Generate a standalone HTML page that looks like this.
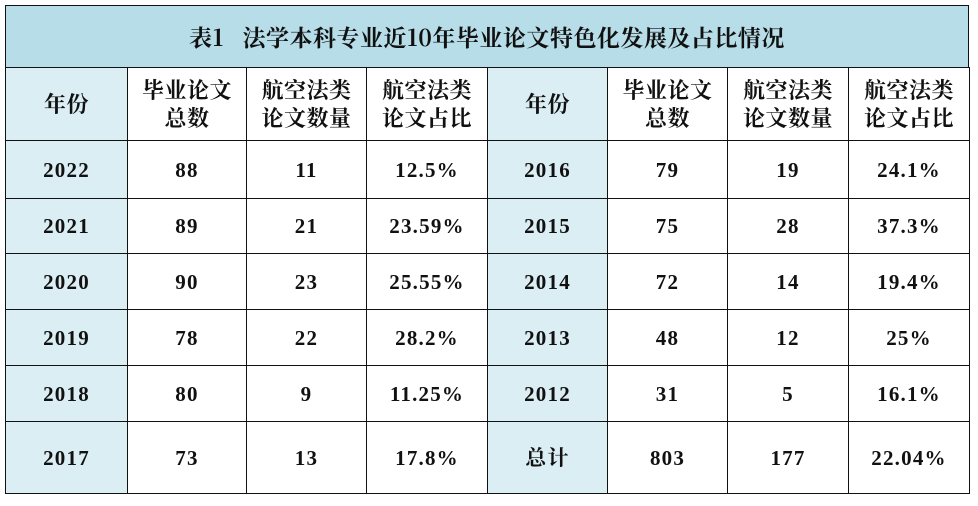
<!DOCTYPE html><html><head><meta charset="utf-8"><style>
body{margin:0;width:978px;height:506px;background:#fff;position:relative;overflow:hidden;font-family:"Liberation Serif","Noto Serif CJK SC",serif;color:#111}
.c{position:absolute;box-sizing:border-box;border:1.5px solid #111;display:flex;align-items:center;justify-content:center;text-align:center;font-size:21px;line-height:26px;font-weight:bold;letter-spacing:1.2px}
.b{background:#dbeef4}
.h{font-family:"Noto Serif CJK SC",serif;font-size:22px;letter-spacing:0.5px;line-height:28px}
</style></head><body>
<div class="c h" style="left:5px;top:5px;width:964px;height:63px;background:#b7dde8;font-size:23px">表1&nbsp;&nbsp;&nbsp;法学本科专业近10年毕业论文特色化发展及占比情况</div>
<div id="g"></div>
<script>
var xs=[5,127,246,366,487,607,727,848,969],ys=[67,140,198,253,309,365,421,493];
var rows=[["年份","毕业论文<br>总数","航空法类<br>论文数量","航空法类<br>论文占比","年份","毕业论文<br>总数","航空法类<br>论文数量","航空法类<br>论文占比"],
["2022","88","11","12.5%","2016","79","19","24.1%"],
["2021","89","21","23.59%","2015","75","28","37.3%"],
["2020","90","23","25.55%","2014","72","14","19.4%"],
["2019","78","22","28.2%","2013","48","12","25%"],
["2018","80","9","11.25%","2012","31","5","16.1%"],
["2017","73","13","17.8%","总计","803","177","22.04%"]];
var h="";
for(var r=0;r<7;r++)for(var c=0;c<8;c++){
var cls="c"+((c==0||c==4)?" b":"")+(r==0?" h":"");
h+='<div class="'+cls+'" style="left:'+xs[c]+'px;top:'+ys[r]+'px;width:'+(xs[c+1]-xs[c]+1)+'px;height:'+(ys[r+1]-ys[r]+1)+'px">'+rows[r][c]+'</div>';}
document.getElementById("g").innerHTML=h;
</script>
</body></html>
